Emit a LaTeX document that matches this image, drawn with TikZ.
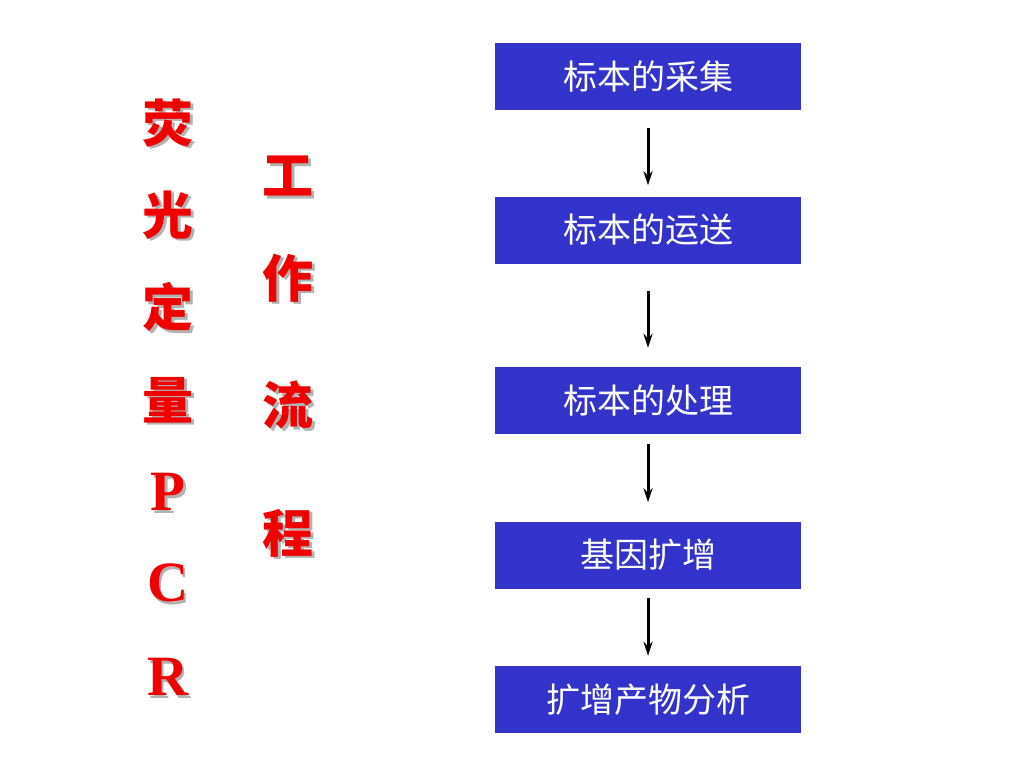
\documentclass[tikz,border=0pt]{standalone}
\usepackage{fontspec}
\newfontfamily\cjk{Noto Sans CJK SC}
\newfontfamily\latin{Liberation Serif}
\usetikzlibrary{arrows.meta, positioning}
\definecolor{boxblue}{HTML}{3333CC}
\definecolor{titlered}{HTML}{F00000}

\begin{document}
\begin{tikzpicture}[x=1pt, y=-1pt,
    box/.style={fill=boxblue, text=white, minimum width=306pt, minimum height=67pt,
        inner sep=0pt, font=\cjk\fontsize{34}{40}\selectfont},
    flow/.style={-{Stealth[length=14pt, width=9pt]}, line width=3pt},
    title/.style={text=titlered, inner sep=0pt},
    shade/.style={text=black!30, inner sep=0pt},
    cjkbig/.style={font=\cjk\bfseries\fontsize{51}{60}\selectfont},
    latbig/.style={font=\latin\bfseries\fontsize{57}{66}\selectfont}]
    \useasboundingbox (0,0) rectangle (1024,768);

    % Title, first column
    \foreach \ch/\y/\f [count=\i] in {荧/123/cjkbig, 光/215/cjkbig, 定/307/cjkbig, 量/400/cjkbig,
                                     P/492/latbig, C/583/latbig, R/677/latbig}
    {
        \node[shade, \f] (sa\i) at (170.5,\y+2.5) {\ch};
        \node[title, \f] (ta\i) at (168,\y) {\ch};
    }

    % Title, second column
    \foreach \ch/\y [count=\i] in {工/176, 作/278, 流/405, 程/533}
    {
        \node[shade, cjkbig] (sb\i) at (290.5,\y+2.5) {\ch};
        \node[title, cjkbig] (tb\i) at (288,\y) {\ch};
    }

    % Work flow boxes
    \node[box] (st1) at (648,76.5)  {标本的采集};
    \node[box] (st2) at (648,230)   {标本的运送};
    \node[box] (st3) at (648,400.5) {标本的处理};
    \node[box] (st4) at (648,555)   {基因扩增};
    \node[box] (st5) at (648,699.5) {扩增产物分析};

    % Arrows between the steps
    \foreach \a/\b/\s/\e in {st1/st2/18/11, st2/st3/27/19, st3/st4/10/19, st4/st5/9/10}
    \draw[flow, shorten <=\s pt, shorten >=\e pt] (\a.south) -- (\b.north);
\end{tikzpicture}
\end{document}
